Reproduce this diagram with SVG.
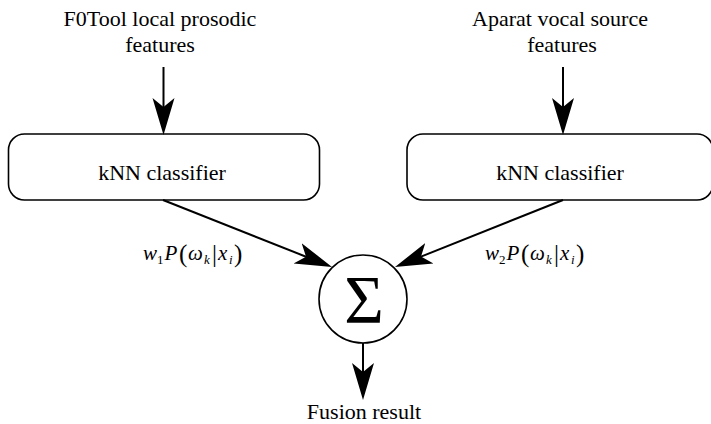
<svg xmlns="http://www.w3.org/2000/svg" width="711" height="424" viewBox="0 0 711 424" font-family="'Liberation Serif', 'DejaVu Serif', serif">
  <style>
    text { font-family: 'Liberation Serif', 'DejaVu Serif', serif; fill: #000; }
    .lbl { font-size: 22px; text-anchor: middle; }
    .box { fill: #fff; stroke: #000; stroke-width: 1.6; }
    .edge { fill: none; stroke: #000; stroke-width: 2; }
    .m { font-size: 21px; font-style: italic; }
    .sub { font-size: 13px; }
    .subi { font-size: 13px; font-style: italic; }
    .br { font-size: 25px; }
  </style>
  <defs>
    <!-- barbed arrowhead, anchored at its notch so the shaft stays hidden -->
    <marker id="head" viewBox="0 0 37 24" refX="9" refY="12" markerWidth="37" markerHeight="24" markerUnits="userSpaceOnUse" orient="auto">
      <path d="M0,1 L37,12 L0,23 L9,12 Z" fill="#000"/>
    </marker>
  </defs>

  <rect width="711" height="424" fill="#fff"/>

  <!-- input captions -->
  <g id="input-f0tool">
    <text class="lbl" x="160" y="26">F0Tool local prosodic</text>
    <text class="lbl" x="160" y="52">features</text>
  </g>
  <g id="input-aparat">
    <text class="lbl" x="560" y="26">Aparat vocal source</text>
    <text class="lbl" x="562" y="52">features</text>
  </g>

  <!-- classifiers -->
  <g id="knn-left">
    <rect class="box" x="8.5" y="134" width="311" height="66" rx="16" ry="16"/>
    <text class="lbl" x="162" y="180">kNN classifier</text>
  </g>
  <g id="knn-right">
    <rect class="box" x="407" y="134" width="306" height="66" rx="16" ry="16"/>
    <text class="lbl" x="560" y="180">kNN classifier</text>
  </g>

  <!-- summation node -->
  <g id="sum">
    <circle cx="363" cy="299" r="44" fill="#fff" stroke="#000" stroke-width="1.6"/>
    <text x="364" y="322" font-size="68" text-anchor="middle">Σ</text>
  </g>

  <!-- output caption -->
  <g id="output">
    <text class="lbl" x="364" y="419">Fusion result</text>
  </g>

  <!-- connectors -->
  <g id="connectors">
    <line class="edge" x1="163.5" y1="67" x2="163.5" y2="107" marker-end="url(#head)"/>
    <line class="edge" x1="563" y1="67" x2="563" y2="107" marker-end="url(#head)"/>
    <line class="edge" x1="163" y1="200" x2="306" y2="256.7" marker-end="url(#head)"/>
    <line class="edge" x1="563" y1="200" x2="421" y2="256.6" marker-end="url(#head)"/>
    <line class="edge" x1="363" y1="343" x2="363" y2="372" marker-end="url(#head)"/>
  </g>

  <!-- weighted posterior labels -->
  <g id="label-left">
    <text class="m" x="143" y="260">w</text>
    <text class="sub" x="157" y="264">1</text>
    <text class="m" x="164.5" y="260">P</text>
    <text class="br" x="179" y="262">(</text>
    <text class="m" x="188" y="260">ω</text>
    <text class="subi" x="204" y="264">k</text>
    <text class="br" x="212" y="262">|</text>
    <text class="m" x="218" y="260">x</text>
    <text class="subi" x="229" y="264">i</text>
    <text class="br" x="234" y="262">)</text>
  </g>
  <g id="label-right">
    <text class="m" x="485" y="260">w</text>
    <text class="sub" x="499" y="264">2</text>
    <text class="m" x="506.5" y="260">P</text>
    <text class="br" x="521" y="262">(</text>
    <text class="m" x="530" y="260">ω</text>
    <text class="subi" x="546" y="264">k</text>
    <text class="br" x="554" y="262">|</text>
    <text class="m" x="560" y="260">x</text>
    <text class="subi" x="571" y="264">i</text>
    <text class="br" x="576" y="262">)</text>
  </g>
</svg>
